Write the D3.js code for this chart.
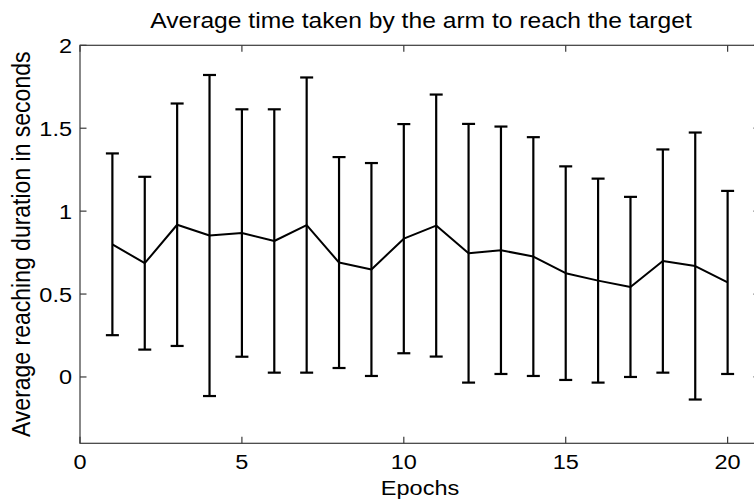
<!DOCTYPE html>
<html>
<head>
<meta charset="utf-8">
<script src="https://cdn.jsdelivr.net/npm/d3@7"></script>
<style>
  html, body { margin: 0; padding: 0; background: #fff; }
  svg { display: block; }
  text { font-family: "Liberation Sans", Arial, sans-serif; fill: #000; }
</style>
</head>
<body>
<svg id="chart" width="754" height="504"></svg>
<script>
// Mean reaching time per epoch and its standard deviation (error bar half-length)
const epochs = [1, 2, 3, 4, 5, 6, 7, 8, 9, 10, 11, 12, 13, 14, 15, 16, 17, 18, 19, 20];
const meanTime = [0.800, 0.686, 0.918, 0.853, 0.868, 0.820, 0.916, 0.690, 0.648, 0.834,
                  0.913, 0.746, 0.764, 0.726, 0.626, 0.581, 0.543, 0.699, 0.669, 0.570];
const stdTime = [0.548, 0.521, 0.731, 0.968, 0.746, 0.794, 0.890, 0.636, 0.642, 0.691,
                 0.790, 0.780, 0.746, 0.720, 0.644, 0.615, 0.543, 0.673, 0.805, 0.552];
const xTicks = [0, 5, 10, 15, 20];
const yTicks = [0, 0.5, 1, 1.5, 2];
const xTickLabels = ["0", "5", "10", "15", "20"];
const yTickLabels = ["0", "0.5", "1", "1.5", "2"];
const titleText = "Average time taken by the arm to reach the target";
const xLabelText = "Epochs";
const yLabelText = "Average reaching duration in seconds";

const svg = d3.select("#chart");
const plotLeft = 80, plotRight = 760, plotTop = 45.3, plotBottom = 443.3;
const stretch = 1.12; // glyphs are drawn slightly wider than tall

const x = d3.scaleLinear().domain([0, 21]).range([plotLeft, plotRight]);
const y = d3.scaleLinear().domain([-0.4, 2]).range([plotBottom, plotTop]);

const axisColor = "#3a3a3a";
const tickLen = 6.5;

// axes box
svg.append("rect")
  .attr("x", plotLeft).attr("y", plotTop)
  .attr("width", plotRight - plotLeft).attr("height", plotBottom - plotTop)
  .attr("fill", "none").attr("stroke", axisColor).attr("stroke-width", 1.2);

// inward ticks on all four sides
const ax = svg.append("g").attr("stroke", axisColor).attr("stroke-width", 1.2);
xTicks.forEach(t => {
  ax.append("line").attr("x1", x(t)).attr("x2", x(t)).attr("y1", plotBottom).attr("y2", plotBottom - tickLen);
  ax.append("line").attr("x1", x(t)).attr("x2", x(t)).attr("y1", plotTop).attr("y2", plotTop + tickLen);
});
yTicks.forEach(t => {
  ax.append("line").attr("x1", plotLeft).attr("x2", plotLeft + tickLen).attr("y1", y(t)).attr("y2", y(t));
  ax.append("line").attr("x1", plotRight).attr("x2", plotRight - tickLen).attr("y1", y(t)).attr("y2", y(t));
});

// helper for horizontally stretched text
function stretchedText(parent, tx, ty, str, size, anchor) {
  return parent.append("text")
    .attr("transform", `translate(${tx},${ty}) scale(${stretch},1)`)
    .attr("text-anchor", anchor)
    .attr("font-size", size)
    .text(str);
}

const labels = svg.append("g");
xTicks.forEach((t, i) => stretchedText(labels, x(t), 469, xTickLabels[i], 21, "middle"));
yTicks.forEach((t, i) => stretchedText(labels, 72, y(t) + 7.5, yTickLabels[i], 21, "end"));

stretchedText(labels, 421, 28, titleText, 22, "middle");
stretchedText(labels, (plotLeft + plotRight) / 2, 495, xLabelText, 21, "middle");

labels.append("text")
  .attr("transform", `translate(30,${(plotTop + plotBottom) / 2}) rotate(-90) scale(1,${stretch})`)
  .attr("text-anchor", "middle")
  .attr("font-size", 23)
  .text(yLabelText);

// error bars
const capHalf = 6.5;
const bars = svg.append("g").attr("stroke", "#000").attr("stroke-width", 2.2).attr("fill", "none");
epochs.forEach((e, i) => {
  const lo = meanTime[i] - stdTime[i], hi = meanTime[i] + stdTime[i];
  bars.append("line").attr("x1", x(e)).attr("x2", x(e)).attr("y1", y(lo)).attr("y2", y(hi));
  bars.append("line").attr("x1", x(e) - capHalf).attr("x2", x(e) + capHalf).attr("y1", y(lo)).attr("y2", y(lo));
  bars.append("line").attr("x1", x(e) - capHalf).attr("x2", x(e) + capHalf).attr("y1", y(hi)).attr("y2", y(hi));
});

// line through the means
const line = d3.line().x((d, i) => x(epochs[i])).y(d => y(d));
svg.append("path")
  .datum(meanTime)
  .attr("d", line)
  .attr("fill", "none")
  .attr("stroke", "#000")
  .attr("stroke-width", 2)
  .attr("stroke-linejoin", "round");
</script>
</body>
</html>
